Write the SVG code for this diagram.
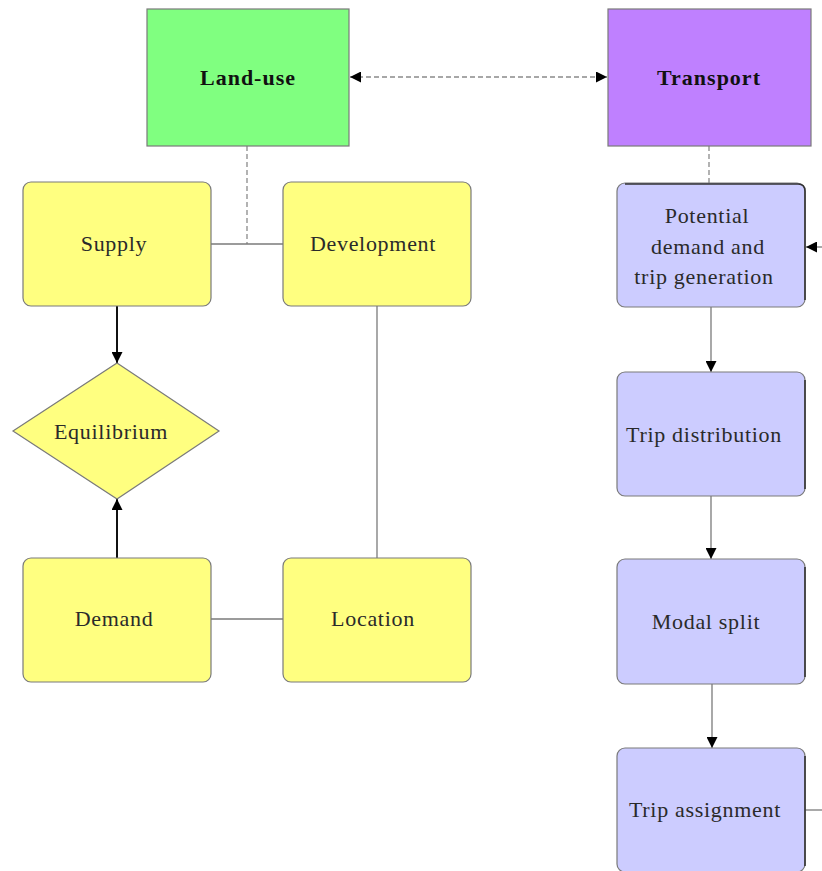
<svg xmlns="http://www.w3.org/2000/svg" width="822" height="871" viewBox="0 0 822 871">
<style>
  .lbl { font-family: "Liberation Serif", "Times New Roman", serif; font-size: 22px; letter-spacing: 0.7px; fill: #2a2a2a; text-anchor: middle; dominant-baseline: central; }
  .bold { font-weight: bold; fill: #111; letter-spacing: 1px; }
  .box { stroke: #7a7a7a; stroke-width: 1.2; }
  .yel { fill: #FFFF80; }
  .blu { fill: #CCCCFF; }
  .shadow { fill: none; stroke: #333; stroke-width: 1.6; }
  .solid { fill: none; stroke: #7a7a7a; stroke-width: 1.3; }
  .dash { fill: none; stroke: #8a8a8a; stroke-width: 1.3; stroke-dasharray: 5 3; }
  .strong { fill: none; stroke: #111; stroke-width: 2; }
</style>
<defs>
  <marker id="ah" viewBox="0 0 10 10" refX="10" refY="5" markerWidth="12" markerHeight="11" markerUnits="userSpaceOnUse" orient="auto-start-reverse">
    <path d="M0,0 L10,5 L0,10 z" fill="#000"/>
  </marker>
</defs>
<rect width="822" height="871" fill="#fff"/>

<g id="connectors">
  <line class="dash" x1="350" y1="77" x2="607" y2="77" marker-start="url(#ah)" marker-end="url(#ah)"/>
  <line class="dash" x1="247" y1="146" x2="247" y2="244"/>
  <line class="solid" x1="211" y1="244" x2="283" y2="244"/>
  <line class="strong" x1="117" y1="306" x2="117" y2="363" marker-end="url(#ah)"/>
  <line class="strong" x1="117" y1="558" x2="117" y2="499" marker-end="url(#ah)"/>
  <line class="solid" x1="377" y1="306" x2="377" y2="558"/>
  <line class="solid" x1="211" y1="619" x2="283" y2="619"/>
  <line class="dash" x1="709" y1="146" x2="709" y2="183"/>
  <line class="solid" x1="711" y1="307" x2="711" y2="372" marker-end="url(#ah)"/>
  <line class="solid" x1="711" y1="496" x2="711" y2="559" marker-end="url(#ah)"/>
  <line class="solid" x1="712" y1="684" x2="712" y2="748" marker-end="url(#ah)"/>
  <line class="solid" x1="805" y1="810" x2="822" y2="810"/>
  <line class="solid" x1="822" y1="247" x2="806" y2="247" marker-end="url(#ah)"/>
</g>

<g id="landuse">
  <rect class="box" x="147" y="9" width="202" height="137" fill="#80FF80"/>
  <text class="lbl bold" x="248" y="77">Land-use</text>
</g>
<g id="transport">
  <rect class="box" x="608" y="9" width="203" height="137" fill="#BF80FF"/>
  <text class="lbl bold" x="709" y="77">Transport</text>
</g>

<g id="supply">
  <rect class="box yel" x="23" y="182" width="188" height="124" rx="8"/>
  <text class="lbl" x="114" y="243">Supply</text>
</g>
<g id="development">
  <rect class="box yel" x="283" y="182" width="188" height="124" rx="8"/>
  <text class="lbl" x="373" y="243">Development</text>
</g>
<g id="equilibrium">
  <polygon class="box yel" points="117,363 219,431 117,499 13,431"/>
  <text class="lbl" x="111" y="431">Equilibrium</text>
</g>
<g id="demand">
  <rect class="box yel" x="23" y="558" width="188" height="124" rx="8"/>
  <text class="lbl" x="114" y="618">Demand</text>
</g>
<g id="location">
  <rect class="box yel" x="283" y="558" width="188" height="124" rx="8"/>
  <text class="lbl" x="373" y="618">Location</text>
</g>

<g id="potential">
  <rect class="box blu" x="617" y="183" width="188" height="124" rx="8"/>
  <path class="shadow" d="M625,184 L798,184 Q805,184 805,191 L805,300"/>
  <text class="lbl" x="707" y="215">Potential</text>
  <text class="lbl" x="708" y="246">demand and</text>
  <text class="lbl" x="704" y="276">trip generation</text>
</g>
<g id="tripdist">
  <rect class="box blu" x="617" y="372" width="188" height="124" rx="8"/>
  <path class="shadow" d="M805,380 L805,489"/>
  <text class="lbl" x="704" y="434">Trip distribution</text>
</g>
<g id="modal">
  <rect class="box blu" x="617" y="559" width="188" height="125" rx="8"/>
  <path class="shadow" d="M805,567 L805,677"/>
  <text class="lbl" x="706" y="621">Modal split</text>
</g>
<g id="tripassign">
  <rect class="box blu" x="617" y="748" width="188" height="124" rx="8"/>
  <path class="shadow" d="M805,756 L805,866"/>
  <text class="lbl" x="705" y="809">Trip assignment</text>
</g>
</svg>
